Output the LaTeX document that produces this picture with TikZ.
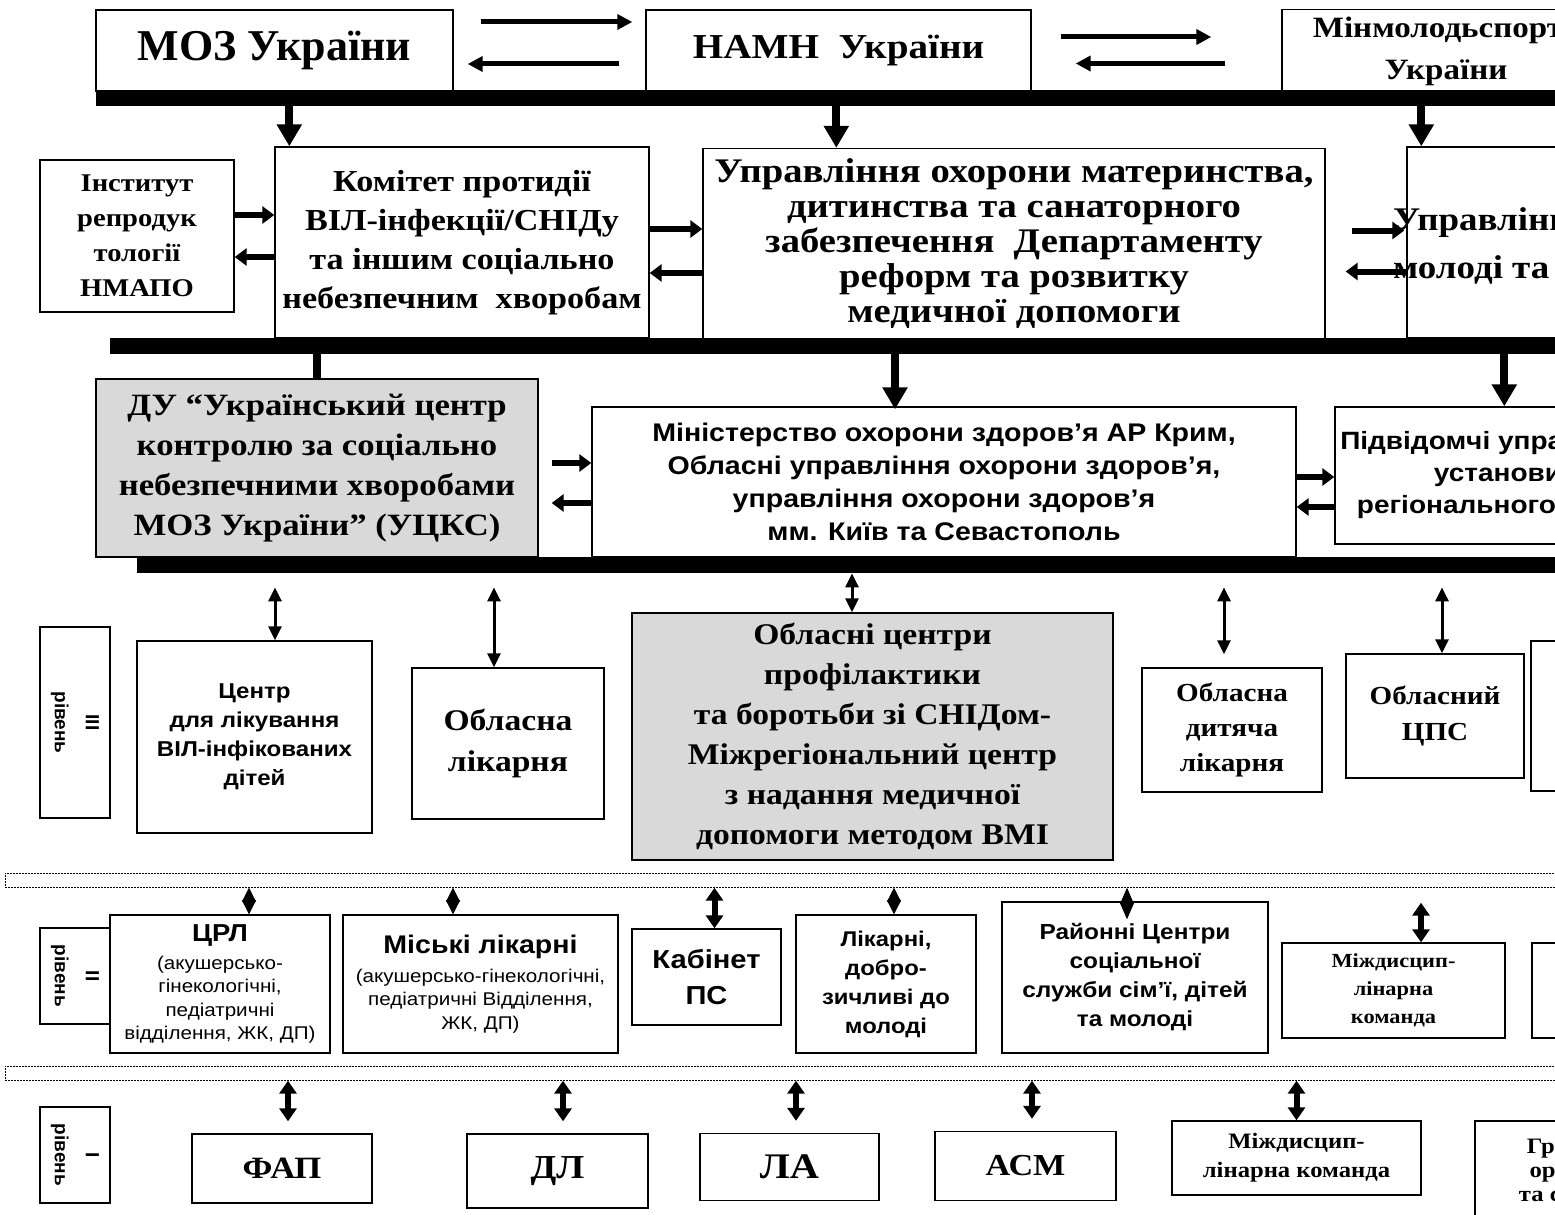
\documentclass[tikz,border=0pt]{standalone}
\usepackage{fontspec}
\setmainfont{Liberation Serif}
\setsansfont{Liberation Sans}
\newfontfamily\wserif[FakeStretch=1.12]{Liberation Serif}
\newfontfamily\wsans[FakeStretch=1.12]{Liberation Sans}
\usetikzlibrary{arrows.meta}
\definecolor{boxgray}{RGB}{217,217,217}
\newcommand\fsz[2]{\fontsize{#1}{#2}\selectfont\bfseries}
\newcommand\ws[2]{\wserif\fontsize{#1}{#2}\selectfont\bfseries}
\newcommand\wss[2]{\wsans\fontsize{#1}{#2}\selectfont\bfseries}
\newcommand\smf{\wsans\fontsize{18.4}{23.5}\selectfont\mdseries}

\begin{document}
\begin{tikzpicture}[x=1pt, y=-1pt,
  box/.style={draw, line width=1.4pt, fill=white, align=center, inner sep=0pt},
  graybox/.style={box, fill=boxgray},
  lvlbox/.style={box, rotate=-90, font=\sffamily\fsz{19}{31}},
  bar/.style={fill=black, inner sep=0pt, minimum height=16pt, anchor=north west},
  band/.style={draw, line width=0.7pt, dash pattern=on 2pt off 1pt, inner sep=0pt, minimum height=14pt, minimum width=1600pt, anchor=north west},
  toparrow/.style={line width=5pt, arrows={-Triangle[length=15pt,width=15pt]}},
  sidearrow/.style={line width=6pt, arrows={-Triangle[length=12pt,width=17pt]}},
  downarrow/.style={line width=8pt, arrows={-Triangle[length=22pt,width=24pt]}},
  thinboth/.style={line width=3pt, arrows={Triangle[length=14pt,width=13pt]-Triangle[length=14pt,width=13pt]}},
  thickboth/.style={line width=6pt, arrows={Triangle[length=13pt,width=17pt]-Triangle[length=13pt,width=17pt]}},
  diam/.style={line width=1pt, arrows={Triangle[length=#1,width=14pt]-Triangle[length=#1,width=14pt]}},
]
\useasboundingbox (0,0) rectangle (1555,1215);
\clip (0,0) rectangle (1555,1215);
\fill[white] (0,0) rectangle (1555,1215);

% top row
\node[box, minimum width=357pt, minimum height=81pt, font=\fsz{44}{50}] (moz) at (274.5,50.5) {МОЗ України};
\node[box, minimum width=385pt, minimum height=81pt, font=\ws{35}{40}] (namn) at (838.5,50.5) {НАМН \ України};
\node[box, minimum width=328pt, minimum height=83pt, font=\ws{29.5}{42}] (minmol) at (1446,51) {Мінмолодьспорту\\України};
\node[bar, minimum width=1504pt] (bar1) at (96,90) {};

% second row
\node[box, minimum width=194pt, minimum height=152pt, font=\ws{25.5}{35}] (inst) at (137,236) {Інститут\\репродук\\тології\\НМАПО};
\node[box, minimum width=374pt, minimum height=191pt, font=\ws{30.5}{39}] (komitet) at (462,242.5) {Комітет протидії\\ВІЛ-інфекції/СНІДу\\та іншим соціально\\небезпечним \ хворобам};
\node[box, minimum width=622pt, minimum height=191pt, font=\ws{34.5}{35}] (upr) at (1014,244) {Управління охорони материнства,\\дитинства та санаторного\\забезпечення \ Департаменту\\реформ та розвитку\\медичної допомоги};
\node[box, minimum width=300pt, minimum height=191pt] (uprmol) at (1557,242.5) {};
\node[anchor=west, align=left, inner sep=0pt, font=\ws{33}{48}] (uprmoltxt) at (1393,246) {Управління\\молоді та};
\node[bar, minimum width=1490pt] (bar2) at (110,338) {};

% third row
\node[graybox, minimum width=442pt, minimum height=178pt, font=\ws{31}{40}] (du) at (317,468) {ДУ “Український центр\\контролю за соціально\\небезпечними хворобами\\МОЗ України” (УЦКС)};
\node[box, minimum width=704pt, minimum height=150pt, font=\wss{25.5}{33}] (minist) at (944,482) {Міністерство охорони здоров’я АР Крим,\\Обласні управління охорони здоров’я,\\управління охорони здоров’я\\мм. Київ та Севастополь};
\node[box, minimum width=326pt, minimum height=137pt, font=\wss{25}{32}] (pidv) at (1498,475.5) {Підвідомчі управління\\установи\\регіонального рівня};
\node[bar, minimum width=1463pt] (bar3) at (137,557) {};

% level III
\node[lvlbox, minimum width=191pt, minimum height=70pt] (lvl3) at (75,722.5) {III\\рівень};
\node[box, minimum width=235pt, minimum height=192pt, font=\wss{21.5}{29}] (centr) at (254.5,737) {Центр\\для лікування\\ВІЛ-інфікованих\\дітей};
\node[box, minimum width=192pt, minimum height=151pt, font=\ws{30}{41}] (oblL) at (508,743.5) {Обласна\\лікарня};
\node[graybox, minimum width=481pt, minimum height=247pt, font=\ws{30}{40}] (oblC) at (872.5,736.5) {Обласні центри\\профілактики\\та боротьби зі СНІДом-\\Міжрегіональний центр\\з надання медичної\\допомоги методом ВМІ};
\node[box, minimum width=180pt, minimum height=124pt, font=\ws{26}{35}] (oblD) at (1232,730) {Обласна\\дитяча\\лікарня};
\node[box, minimum width=178pt, minimum height=124pt, font=\ws{26}{36}] (cps) at (1435,716) {Обласний\\ЦПС};
\node[box, minimum width=169pt, minimum height=150pt] (right3) at (1615.5,716) {};

% level II
\node[band] (band1) at (5,873) {};
\node[lvlbox, minimum width=96pt, minimum height=70pt] (lvl2) at (75,976) {II\\рівень};
\node[box, minimum width=220pt, minimum height=138pt, font=\wss{24.5}{23.5}] (crl) at (220,984) {ЦРЛ\\[4pt]\smf(акушерсько-\\\smf гінекологічні,\\\smf педіатричні\\\smf відділення, ЖК, ДП)};
\node[box, minimum width=275pt, minimum height=138pt, font=\wss{25.5}{23.5}] (misk) at (480.5,984) {Міські лікарні\\[5pt]\smf(акушерсько-гінекологічні,\\\smf педіатричні Відділення,\\\smf ЖК, ДП)};
\node[box, minimum width=149pt, minimum height=96pt, font=\wss{26}{36}] (kab) at (706.5,977) {Кабінет\\ПС};
\node[box, minimum width=180pt, minimum height=138pt, font=\wss{21.3}{29}] (likarni) at (886,984) {Лікарні,\\добро-\\зичливі до\\молоді};
\node[box, minimum width=266pt, minimum height=151pt, font=\wss{21.8}{29}] (raion) at (1135,977.5) {Районні Центри\\соціальної\\служби сім’ї, дітей\\та молоді};
\node[box, minimum width=223pt, minimum height=95pt, font=\ws{20}{28}] (mizh2) at (1393.5,990.5) {Міждисцип-\\лінарна\\команда};
\node[box, minimum width=168pt, minimum height=95pt] (right2) at (1616,990.5) {};

% level I
\node[band] (band2) at (5,1066) {};
\node[lvlbox, minimum width=96pt, minimum height=70pt] (lvl1) at (75,1155) {I\\рівень};
\node[box, minimum width=180pt, minimum height=69pt, font=\ws{31}{34}] (fap) at (282,1168.5) {ФАП};
\node[box, minimum width=181pt, minimum height=74pt, font=\ws{33.5}{36}] (dl) at (557.5,1171) {ДЛ};
\node[box, minimum width=179pt, minimum height=67pt, font=\ws{36}{38}] (la) at (789.5,1167) {ЛА};
\node[box, minimum width=181pt, minimum height=69pt, font=\ws{30.5}{34}] (asm) at (1025.5,1166) {АСМ};
\node[box, minimum width=249pt, minimum height=74pt, font=\ws{22}{29}] (mizh1) at (1296.5,1158) {Міждисцип-\\лінарна команда};
\node[box, minimum width=230pt, minimum height=98pt, font=\ws{22}{24}] (gr) at (1590,1170) {Громадські\\організації\\та спільноти};

% arrows between the ministries
\draw[toparrow, shorten <=27pt, shorten >=13pt] ([yshift=28.5pt]moz.east) -- ([yshift=28.5pt]moz.east -| namn.west);
\draw[toparrow, shorten <=26pt, shorten >=14pt] ([yshift=-13.5pt]namn.west) -- ([yshift=-13.5pt]namn.west -| moz.east);
\draw[toparrow, shorten <=29pt, shorten >=70pt] ([yshift=13.5pt]namn.east) -- ([yshift=13.5pt]namn.east -| minmol.west);
\draw[toparrow, shorten <=56pt, shorten >=44pt] ([yshift=-12.5pt]minmol.west) -- ([yshift=-12.5pt]minmol.west -| namn.east);

\draw[downarrow] ([xshift=15pt]komitet.north west |- bar1.south) -- ([xshift=15pt]komitet.north west);
\draw[downarrow] ([xshift=134pt]upr.north west |- bar1.south) -- ([xshift=134pt]upr.north west);
\draw[downarrow] ([xshift=15pt]uprmol.north west |- bar1.south) -- ([xshift=15pt]uprmol.north west);

\draw[sidearrow] ([yshift=21pt]inst.east) -- ([yshift=21pt]inst.east -| komitet.west);
\draw[sidearrow] ([yshift=-21pt]inst.east -| komitet.west) -- ([yshift=-21pt]inst.east);
\draw[sidearrow] ([yshift=13.5pt]komitet.east) -- ([yshift=13.5pt]komitet.east -| upr.west);
\draw[sidearrow] ([yshift=-30.5pt]komitet.east -| upr.west) -- ([yshift=-30.5pt]komitet.east);
\draw[sidearrow, shorten <=26pt, shorten >=2pt] ([yshift=13.5pt]upr.east) -- ([yshift=13.5pt]upr.east -| uprmol.west);
\draw[sidearrow, shorten >=20pt] ([yshift=-27.5pt]upr.east -| uprmol.west) -- ([yshift=-27.5pt]upr.east);

\draw[line width=8pt] (bar2.south -| du.north) -- (du.north);
\draw[downarrow] ([xshift=-49pt]minist.north |- bar2.south) -- ([xshift=-49pt, yshift=-3pt]minist.north);
\draw[downarrow] ([xshift=170pt]pidv.north west |- bar2.south) -- ([xshift=170pt]pidv.north west);

\draw[sidearrow, shorten <=13pt] ([yshift=5pt]du.east) -- ([yshift=5pt]du.east -| minist.west);
\draw[sidearrow, shorten >=13pt] ([yshift=-35pt]du.east -| minist.west) -- ([yshift=-35pt]du.east);
\draw[sidearrow] ([yshift=5pt]minist.east) -- ([yshift=5pt]minist.east -| pidv.west);
\draw[sidearrow] ([yshift=-25pt]minist.east -| pidv.west) -- ([yshift=-25pt]minist.east);

% level III links
\draw[thinboth, shorten <=14pt] ([xshift=20.5pt]centr.north |- bar3.south) -- ([xshift=20.5pt]centr.north);
\draw[thinboth, shorten <=14pt] ([xshift=-14pt]oblL.north |- bar3.south) -- ([xshift=-14pt]oblL.north);
\draw[thinboth] ([xshift=-20.5pt]oblC.north |- bar3.south) -- ([xshift=-20.5pt]oblC.north);
\draw[thinboth, shorten <=14pt, shorten >=13pt] ([xshift=-8pt]oblD.north |- bar3.south) -- ([xshift=-8pt]oblD.north);
\draw[thinboth, shorten <=14pt] ([xshift=7pt]cps.north |- bar3.south) -- ([xshift=7pt]cps.north);

% level II links
\draw[diam=14pt] ([xshift=29pt]crl.north |- band1.south) -- ([xshift=29pt]crl.north);
\draw[diam=14pt] ([xshift=-27.5pt]misk.north |- band1.south) -- ([xshift=-27.5pt]misk.north);
\draw[thickboth] ([xshift=8pt]kab.north |- band1.south) -- ([xshift=8pt]kab.north);
\draw[diam=14pt] ([xshift=8pt]likarni.north |- band1.south) -- ([xshift=8pt]likarni.north);
\draw[diam=16.5pt, shorten >=-18pt] ([xshift=-8pt]raion.north |- band1.south) -- ([xshift=-8pt]raion.north);
\draw[thickboth, shorten <=15pt] ([xshift=27.5pt]mizh2.north |- band1.south) -- ([xshift=27.5pt]mizh2.north);

% level I links
\draw[thickboth, shorten >=12pt] ([xshift=6pt]fap.north |- band2.south) -- ([xshift=6pt]fap.north);
\draw[thickboth, shorten >=12pt] ([xshift=5.5pt]dl.north |- band2.south) -- ([xshift=5.5pt]dl.north);
\draw[thickboth, shorten >=12pt] ([xshift=6.5pt]la.north |- band2.south) -- ([xshift=6.5pt]la.north);
\draw[thickboth, shorten >=12pt] ([xshift=6.5pt]asm.north |- band2.south) -- ([xshift=6.5pt]asm.north);
\draw[thickboth] (mizh1.north |- band2.south) -- (mizh1.north);

\end{tikzpicture}
\end{document}
